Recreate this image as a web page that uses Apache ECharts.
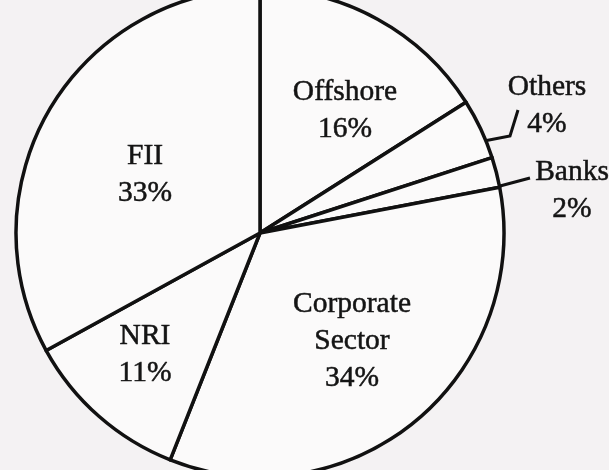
<!DOCTYPE html>
<html>
<head>
<meta charset="utf-8">
<script src="https://cdn.jsdelivr.net/npm/echarts@6/dist/echarts.min.js"></script>
<style>
html,body{margin:0;padding:0;background:#f4f2f3;}
#chart{width:609px;height:470px;}
</style>
</head>
<body>
<div id="chart"></div>
<script>
// Data (clockwise from 12 o'clock)
const categories = ['Offshore', 'Others', 'Banks', 'Corporate Sector', 'NRI', 'FII'];
const shares = [16, 4, 2, 34, 11, 33];

// Label placement (text block centres) and leader lines — layout only
const labelCenters = [[345, 111], [547, 106], [572, 191], [352, 341], [145, 355], [145, 175]];
const leaderLines = {
  1: [[484, 141], [510, 136], [518, 110]],
  2: [[500, 186], [515, 182], [530, 178]]
};

const chart = echarts.init(document.getElementById('chart'), null, {renderer: 'canvas'});
chart.setOption({
  backgroundColor: '#f4f2f3',
  animation: false,
  series: [{
    type: 'pie',
    center: [260, 233],
    radius: 244,
    startAngle: 90,
    clockwise: true,
    avoidLabelOverlap: false,
    silent: true,
    itemStyle: {color: '#fbfafa', borderColor: '#111', borderWidth: 3.5},
    label: {
      show: true,
      position: 'outside',
      fontFamily: 'Liberation Serif',
      fontSize: 29.5,
      lineHeight: 37,
      color: '#141414',
      textBorderColor: '#141414',
      textBorderWidth: 0.5,
      align: 'center',
      formatter: p => p.name.replace(' ', '\n') + '\n' + p.value + '%'
    },
    labelLine: {show: true, lineStyle: {color: '#111', width: 3}},
    labelLayout: p => {
      const c = labelCenters[p.dataIndex];
      const o = {x: c[0], y: c[1], align: 'center', verticalAlign: 'middle'};
      if (leaderLines[p.dataIndex]) o.labelLinePoints = leaderLines[p.dataIndex];
      return o;
    },
    data: categories.map((n, i) => ({
      name: n,
      value: shares[i],
      labelLine: {show: !!leaderLines[i]}
    }))
  }]
});
</script>
</body>
</html>
